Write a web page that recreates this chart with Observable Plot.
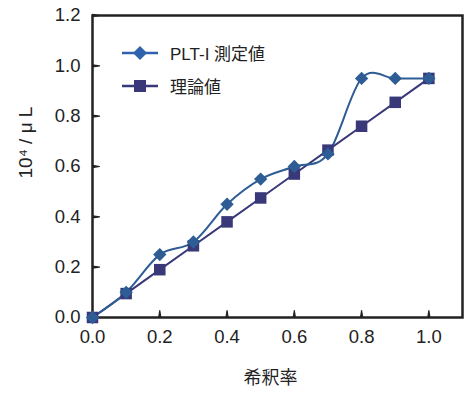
<!DOCTYPE html>
<html>
<head>
<meta charset="utf-8">
<script src="https://cdn.jsdelivr.net/npm/d3@7"></script>
<script src="https://cdn.jsdelivr.net/npm/@observablehq/plot@0.6"></script>
<style>
  html, body { margin: 0; padding: 0; background: #fff; }
  #chart { position: relative; width: 470px; height: 394px; font-family: "Liberation Sans", Arial, "Noto Sans CJK JP", sans-serif; }
  .legend { position: absolute; left: 122px; top: 36px; font-size: 17px; color: #222; }
  .legend .row { display: flex; align-items: center; height: 33px; }
  .legend svg { margin-right: 12px; }
</style>
</head>
<body>
<div id="chart"></div>
<script>
// Dilution ratio vs platelet count
const dilution = [0, 0.1, 0.2, 0.3, 0.4, 0.5, 0.6, 0.7, 0.8, 0.9, 1.0];
const measured = [0, 0.10, 0.25, 0.30, 0.45, 0.55, 0.60, 0.65, 0.95, 0.95, 0.95];
const theoretical = [0, 0.095, 0.19, 0.285, 0.38, 0.475, 0.57, 0.665, 0.76, 0.855, 0.95];
const seriesNames = ["PLT-I 測定値", "理論値"];
const xTicks = [0.2, 0.4, 0.6, 0.8, 1.0];
const yTicks = [0.2, 0.4, 0.6, 0.8, 1.0, 1.2];
const xLabels = [0, 0.2, 0.4, 0.6, 0.8, 1.0];
const yLabels = [0, 0.2, 0.4, 0.6, 0.8, 1.0, 1.2];

const colMeasured = "#2d5d94";
const colTheory = "#393979";

const measuredData = dilution.map((x, i) => ({x, y: measured[i]}));
const theoryData = dilution.map((x, i) => ({x, y: theoretical[i]}));

const fontFamily = '"Liberation Sans", Arial, "Noto Sans CJK JP", sans-serif';
const tickLen = 7;

const chart = Plot.plot({
  width: 470,
  height: 394,
  marginTop: 15,
  marginBottom: 77,
  marginLeft: 92,
  marginRight: 8,
  style: {fontFamily, fontSize: "18px", color: "#222"},
  x: {domain: [0, 1.1]},
  y: {domain: [0, 1.2]},
  marks: [
    // short ticks pointing into the frame
    Plot.vector(xTicks, {x: d => d, y: 0, length: tickLen, rotate: 0, anchor: "start", shape: "spike", r: 1.1, fill: "#222", stroke: "#222", strokeWidth: 1.2}),
    Plot.vector(yTicks, {x: 0, y: d => d, length: tickLen, rotate: 90, anchor: "start", shape: "spike", r: 1.1, fill: "#222", stroke: "#222", strokeWidth: 1.2}),
    // tick labels
    Plot.axisX(xLabels, {tickSize: 0, tickPadding: 12, tickFormat: d3.format(".1f"), label: null, fontSize: 18.5}),
    Plot.axisY(yLabels, {tickSize: 0, tickPadding: 12, tickFormat: d3.format(".1f"), label: null, fontSize: 18.5}),
    Plot.frame({stroke: "#222", strokeWidth: 2.5}),
    Plot.line(theoryData, {x: "x", y: "y", stroke: colTheory, strokeWidth: 2}),
    Plot.line(measuredData, {x: "x", y: "y", stroke: colMeasured, strokeWidth: 2, curve: "cardinal"}),
    Plot.dot(theoryData, {x: "x", y: "y", symbol: "square", r: 6.5, fill: colTheory}),
    Plot.dot(measuredData, {x: "x", y: "y", symbol: "diamond2", r: 6, fill: colMeasured}),
    Plot.text(["希釈率"], {frameAnchor: "bottom", dx: -7, dy: 66, text: d => d, fontSize: 18, fill: "#222"}),
    Plot.text(["10⁴ / μ L"], {frameAnchor: "left", dx: -67, dy: 12, rotate: -90, text: d => d, fontSize: 19, fill: "#222"})
  ]
});
const root = document.getElementById("chart");
root.appendChild(chart);

const legend = document.createElement("div");
legend.className = "legend";
legend.innerHTML = `
  <div class="row"><svg width="36" height="16"><line x1="0" y1="8" x2="36" y2="8" stroke="#2f63ad" stroke-width="2.5"/><path d="M18 1 L25 8 L18 15 L11 8 Z" fill="#2f63ad"/></svg><span>${seriesNames[0]}</span></div>
  <div class="row"><svg width="36" height="16"><line x1="0" y1="8" x2="36" y2="8" stroke="${colTheory}" stroke-width="2.5"/><rect x="12" y="2" width="12" height="12" fill="${colTheory}"/></svg><span>${seriesNames[1]}</span></div>`;
root.appendChild(legend);
</script>
</body>
</html>
